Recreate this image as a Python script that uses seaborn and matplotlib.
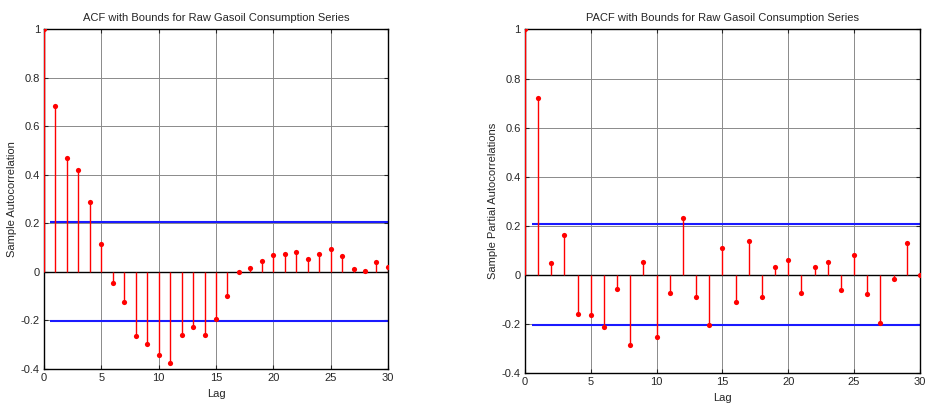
import numpy as np
import pandas as pd
import seaborn as sns
import matplotlib.pyplot as plt

lags = list(range(31))
acf_vals = [1.0, 0.682, 0.470, 0.421, 0.286, 0.114, -0.047, -0.123, -0.266, -0.299,
            -0.344, -0.377, -0.258, -0.226, -0.258, -0.193, -0.099, -0.001, 0.015, 0.045,
            0.068, 0.073, 0.081, 0.052, 0.073, 0.093, 0.064, 0.012, 0.004, 0.041, 0.019]
pacf_vals = [1.0, 0.721, 0.048, 0.163, -0.158, -0.162, -0.211, -0.059, -0.284, 0.052,
             -0.252, -0.072, 0.233, -0.091, -0.205, 0.109, -0.109, 0.139, -0.091, 0.031,
             0.060, -0.072, 0.031, 0.052, -0.063, 0.080, -0.079, -0.195, -0.018, 0.129, 0.0]
acf_bounds = [0.204, -0.203]
pacf_bounds = [0.209, -0.204]

titles = ["ACF with Bounds for Raw Gasoil Consumption Series",
          "PACF with Bounds for Raw Gasoil Consumption Series"]
ylabels = ["Sample Autocorrelation", "Sample Partial Autocorrelations"]

sns.set_style("white")
plt.rcParams['font.family'] = ['Liberation Sans', 'DejaVu Sans']

fig = plt.figure(figsize=(9.27, 4.09), dpi=100)
ax1 = fig.add_axes([0.0475, 0.0978, 0.371, 0.831])
ax2 = fig.add_axes([0.5663, 0.088, 0.4261, 0.840])

for ax, vals, bnd, title, ylab in zip([ax1, ax2], [acf_vals, pacf_vals],
                                      [acf_bounds, pacf_bounds], titles, ylabels):
    df = pd.DataFrame({"Lag": lags, "value": vals})
    ax.vlines(df["Lag"], 0, df["value"], color="red", lw=1, zorder=3)
    sns.scatterplot(data=df, x="Lag", y="value", ax=ax, color="red", s=14,
                    edgecolor="red", linewidth=0, zorder=4)
    ax.axhline(0, color="black", lw=1, zorder=2)
    for b in bnd:
        ax.hlines(b, 0.5, 30, color="#1a1aff", lw=1.5, zorder=2)
    ax.set_xlim(0, 30)
    ax.set_ylim(-0.4, 1.0)
    ax.set_xticks([0, 5, 10, 15, 20, 25, 30])
    ax.set_yticks([-0.4, -0.2, 0, 0.2, 0.4, 0.6, 0.8, 1])
    ax.set_yticklabels(["-0.4", "-0.2", "0", "0.2", "0.4", "0.6", "0.8", "1"])
    ax.grid(True, color="#8a8a8a", ls="-", lw=0.7)
    ax.tick_params(direction="in", length=3, labelsize=8, top=True, right=True,
                   bottom=True, left=True, pad=3)
    for s in ax.spines.values():
        s.set_color("black")
        s.set_linewidth(1)
    ax.set_title(title, fontsize=8, pad=6)
    ax.set_xlabel("Lag", fontsize=8, labelpad=4)
    ax.set_ylabel(ylab, fontsize=8, labelpad=3)

fig.savefig("out.png", dpi=100)
